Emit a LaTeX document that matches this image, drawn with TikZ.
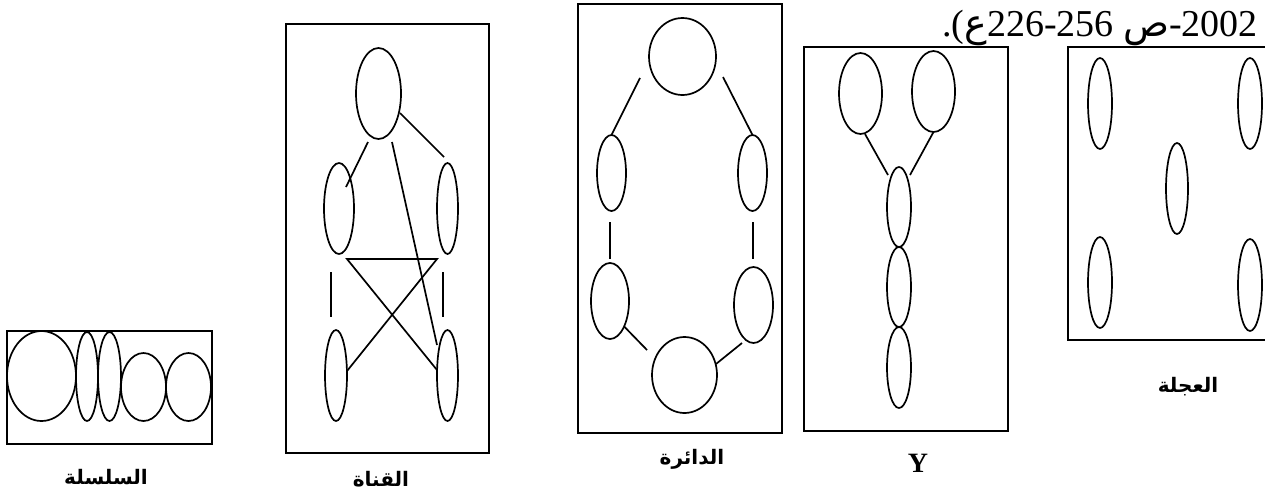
\documentclass[tikz,border=0pt]{standalone}
\usepackage{fontspec}
\setmainfont{Liberation Serif}
\newfontfamily\arabicfont[Script=Arabic]{DejaVu Sans}
\TeXXeTstate=1
\usetikzlibrary{shapes.geometric}

\begin{document}
\begin{tikzpicture}[x=1pt,y=-1pt,
  blob/.style 2 args={ellipse,draw,line width=1.7pt,minimum width=#1pt,minimum height=#2pt,inner sep=0pt,outer sep=0pt},
  panel/.style 2 args={rectangle,draw,line width=2pt,minimum width=#1pt,minimum height=#2pt,inner sep=0pt},
  link/.style={line width=1.7pt},
  caption/.style={font=\arabicfont\bfseries\fontsize{20}{24}\selectfont,inner sep=0pt}]

\useasboundingbox (0,0) rectangle (1265,496);

% reference line at the top right
\node[anchor=base east,inner sep=0pt,font=\fontsize{38}{44}\selectfont] (ref) at (1258,36)
  {.({\arabicfont ع}226-256 {\arabicfont ص}-2002};

% ---- chain
\node[panel={205}{113}] (chain) at (109.5,387.5) {};
\node[blob={69}{90}] (c1) at (41.5,376) {};
\node[blob={22}{89}] (c2) at (87,376.5) {};
\node[blob={23}{89}] (c3) at (109.5,376.5) {};
\node[blob={45}{68}] (c4) at (143.5,387) {};
\node[blob={45}{68}] (c5) at (188.5,387) {};
\node[caption] (chainlbl) at (106,477) {\beginR السلسلة\endR};

% ---- channel
\node[panel={203}{429}] (channel) at (387.5,238.5) {};
\node[blob={45}{91}] (cht) at (378.5,93.5) {};
\node[blob={30}{91}] (chml) at (339,208.5) {};
\node[blob={21}{91}] (chmr) at (447.5,208.5) {};
\node[blob={22}{91}] (chbl) at (336,375.5) {};
\node[blob={21}{91}] (chbr) at (447.5,375.5) {};
\coordinate (cha1) at (368,142);  \coordinate (cha2) at (346,187);
\coordinate (chb1) at (400,113);  \coordinate (chb2) at (444,157);
\coordinate (chc1) at (392,142);  \coordinate (chc2) at (437,345);
\coordinate (chx1) at (347,259);  \coordinate (chx2) at (437,259);
\coordinate (chd1) at (437,370);  \coordinate (chd2) at (347,371);
\coordinate (chv1) at (331,272);  \coordinate (chv2) at (331,317);
\coordinate (chw1) at (443,272);  \coordinate (chw2) at (443,317);
\draw[link] (cha1) -- (cha2);
\draw[link] (chb1) -- (chb2);
\draw[link] (chc1) -- (chc2);
\draw[link] (chd1) -- (chx1) -- (chx2) -- (chd2);
\draw[link] (chv1) -- (chv2);
\draw[link] (chw1) -- (chw2);
\node[caption] (channellbl) at (381,479) {\beginR القناة\endR};

% ---- circle
\node[panel={204}{429}] (circle) at (680,218.5) {};
\node[blob={67}{77}] (clt) at (682.5,56.5) {};
\node[blob={29}{76}] (clml) at (611.5,173) {};
\node[blob={29}{76}] (clmr) at (752.5,173) {};
\node[blob={38}{76}] (clll) at (610,301) {};
\node[blob={39}{76}] (cllr) at (753.5,305) {};
\node[blob={65}{76}] (clb) at (684.5,375) {};
\coordinate (cla) at (640,78);
\coordinate (clc) at (723,77);
\coordinate (clv1) at (610,222); \coordinate (clv2) at (610,259);
\coordinate (clw1) at (753,222); \coordinate (clw2) at (753,259);
\coordinate (cle) at (647,350);
\coordinate (clf1) at (742,343); \coordinate (clf2) at (716,364);
\draw[link] (cla) -- (clml.north);
\draw[link] (clc) -- (clmr.north);
\draw[link] (clv1) -- (clv2);
\draw[link] (clw1) -- (clw2);
\draw[link] (clll.-61) -- (cle);
\draw[link] (clf1) -- (clf2);
\node[caption] (circlelbl) at (692,459) {\beginR الدائرة\endR};

% ---- Y
\node[panel={204}{384}] (ynet) at (906,239) {};
\node[blob={43}{81}] (yl) at (860.5,93.5) {};
\node[blob={43}{81}] (yr) at (933.5,91.5) {};
\node[blob={24}{80}] (ys1) at (899,207) {};
\node[blob={24}{80}] (ys2) at (899,287) {};
\node[blob={24}{81}] (ys3) at (899,367.5) {};
\coordinate (ya) at (865,134);  \coordinate (yb) at (888,175);
\coordinate (yc) at (910,175);
\draw[link] (ya) -- (yb);
\draw[link] (yr.south) -- (yc);
\node[font=\bfseries\fontsize{28}{32}\selectfont,inner sep=0pt] (ylbl) at (918,463) {Y};

% ---- wheel
\node[panel={207}{293}] (wheel) at (1171.5,193.5) {};
\node[blob={24}{91}] (wtl) at (1100,103.5) {};
\node[blob={24}{91}] (wtr) at (1250,103.5) {};
\node[blob={22}{91}] (wc) at (1177,188.5) {};
\node[blob={24}{91}] (wbl) at (1100,282.5) {};
\node[blob={24}{92}] (wbr) at (1250,285) {};
\node[caption] (wheellbl) at (1188,387) {\beginR العجلة\endR};
\end{tikzpicture}
\end{document}
